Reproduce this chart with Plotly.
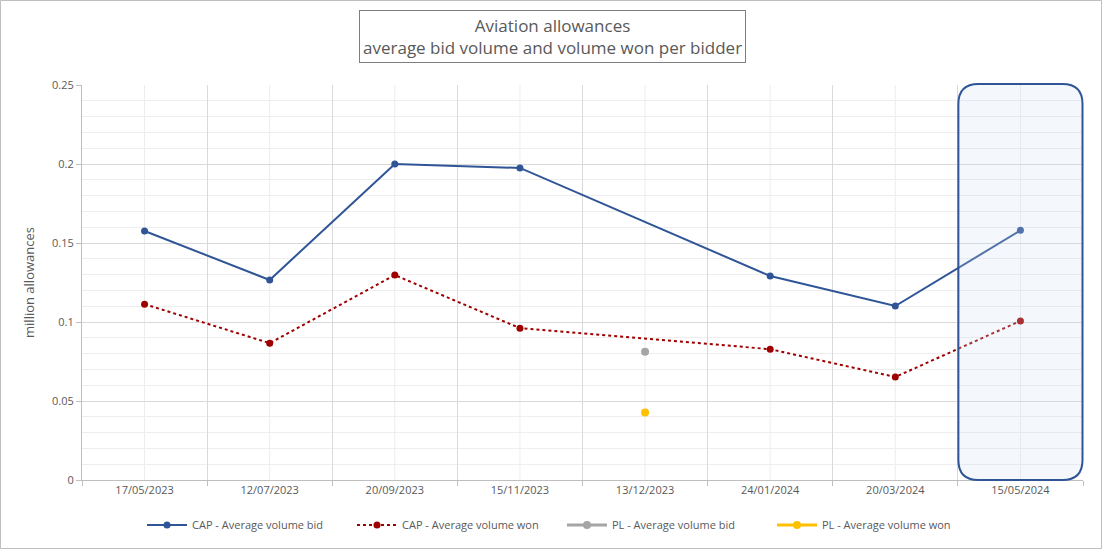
import plotly.graph_objects as go

categories = ["17/05/2023", "12/07/2023", "20/09/2023", "15/11/2023",
              "13/12/2023", "24/01/2024", "20/03/2024", "15/05/2024"]
cap_bid = [0.1576, 0.1266, 0.2000, 0.1975, None, 0.1291, 0.1101, 0.1580]
cap_won = [0.1113, 0.0866, 0.1297, 0.0961, None, 0.0828, 0.0652, 0.1007]
pl_bid = [None, None, None, None, 0.0812, None, None, None]
pl_won = [None, None, None, None, 0.0428, None, None, None]

W, H = 1102, 549
L, R, T, B = 82, 19, 85, 69
PW, PH = W - L - R, H - T - B
FONT = "Open Sans, Lato, sans-serif"
GREY_TXT = "#595959"

fig = go.Figure()
fig.add_trace(go.Scatter(x=categories, y=cap_bid, name="CAP - Average volume bid",
                         mode="lines+markers", connectgaps=True,
                         line=dict(color="#2F5597", width=2),
                         marker=dict(color="#2F5597", size=7)))
fig.add_trace(go.Scatter(x=categories, y=cap_won, name="CAP - Average volume won",
                         mode="lines+markers", connectgaps=True,
                         line=dict(color="#9E0000", width=2, dash="dot"),
                         marker=dict(color="#9E0000", size=7)))
fig.add_trace(go.Scatter(x=categories, y=pl_bid, name="PL - Average volume bid",
                         mode="lines+markers",
                         line=dict(color="#A5A5A5", width=3),
                         marker=dict(color="#A5A5A5", size=8)))
fig.add_trace(go.Scatter(x=categories, y=pl_won, name="PL - Average volume won",
                         mode="lines+markers",
                         line=dict(color="#FFC000", width=3),
                         marker=dict(color="#FFC000", size=8)))

shapes = []
# light vertical gridlines at category centres
for c in categories:
    shapes.append(dict(type="line", xref="x", yref="y domain", x0=c, x1=c, y0=0, y1=1,
                       line=dict(color="#EDEDED", width=1), layer="below"))

# rounded highlight box around the last category
n = len(categories)
x0, x1 = (n - 1) / n + 0.0005, 0.9995
y0, y1 = 0.0, 1.0 + 1 / PH
rx, ry = 20 / PW, 20 / PH
path = (f"M {x0+rx},{y1} L {x1-rx},{y1} Q {x1},{y1} {x1},{y1-ry} "
        f"L {x1},{y0+ry} Q {x1},{y0} {x1-rx},{y0} L {x0+rx},{y0} "
        f"Q {x0},{y0} {x0},{y0+ry} L {x0},{y1-ry} Q {x0},{y1} {x0+rx},{y1} Z")
shapes.append(dict(type="path", xref="x domain", yref="y domain", path=path,
                   fillcolor="rgba(205,224,243,0.22)",
                   line=dict(color="#2F5597", width=2), layer="above"))

# outer chart border
shapes.append(dict(type="rect", xref="paper", yref="paper",
                   x0=(0.5 - L) / PW, x1=(W - 0.5 - L) / PW,
                   y0=-(B - 0.5) / PH, y1=(PH + T - 0.5) / PH,
                   line=dict(color="#BFBFBF", width=1), fillcolor="rgba(0,0,0,0)",
                   layer="below"))

fig.update_layout(
    width=W, height=H,
    margin=dict(l=L, r=R, t=T, b=B, autoexpand=False),
    paper_bgcolor="white", plot_bgcolor="white",
    font=dict(family=FONT, color=GREY_TXT, size=11),
    shapes=shapes,
    showlegend=True,
    legend=dict(orientation="h", x=(562 - L) / PW, xanchor="center",
                y=-(525 - 480) / PH, yanchor="middle",
                font=dict(size=11, color=GREY_TXT), itemwidth=40,
                entrywidth=155, entrywidthmode="pixels"),
    annotations=[dict(text="Aviation allowances<br>average bid volume and volume won per bidder",
                      xref="paper", yref="paper", x=(552 - L) / PW, y=(480 - 36.5) / PH,
                      xanchor="center", yanchor="middle", showarrow=False,
                      font=dict(size=17, color=GREY_TXT, family=FONT),
                      bordercolor="#7F7F7F", borderwidth=1, borderpad=3,
                      bgcolor="white")],
)
fig.update_xaxes(type="category", categoryorder="array", categoryarray=categories,
                 tickson="boundaries", showgrid=True, gridcolor="#D9D9D9", gridwidth=1,
                 showline=True, linecolor="#BFBFBF", ticks="outside", ticklen=5,
                 tickcolor="#BFBFBF", tickfont=dict(size=11, color=GREY_TXT),
                 range=[-0.5, n - 0.5], zeroline=False)
fig.update_yaxes(range=[0, 0.25], dtick=0.05, showgrid=True, gridcolor="#D9D9D9",
                 minor=dict(dtick=0.01, showgrid=True, gridcolor="#EEEEEE"),
                 showline=True, linecolor="#BFBFBF", ticks="outside", ticklen=5,
                 tickcolor="#BFBFBF", zeroline=False,
                 tickfont=dict(size=11, color=GREY_TXT),
                 title=dict(text="million allowances", font=dict(size=13, color=GREY_TXT),
                            standoff=14))

fig.write_html("out.html", config={"displayModeBar": False},
               post_script="document.body.style.margin='0';document.body.style.overflow='hidden';")
